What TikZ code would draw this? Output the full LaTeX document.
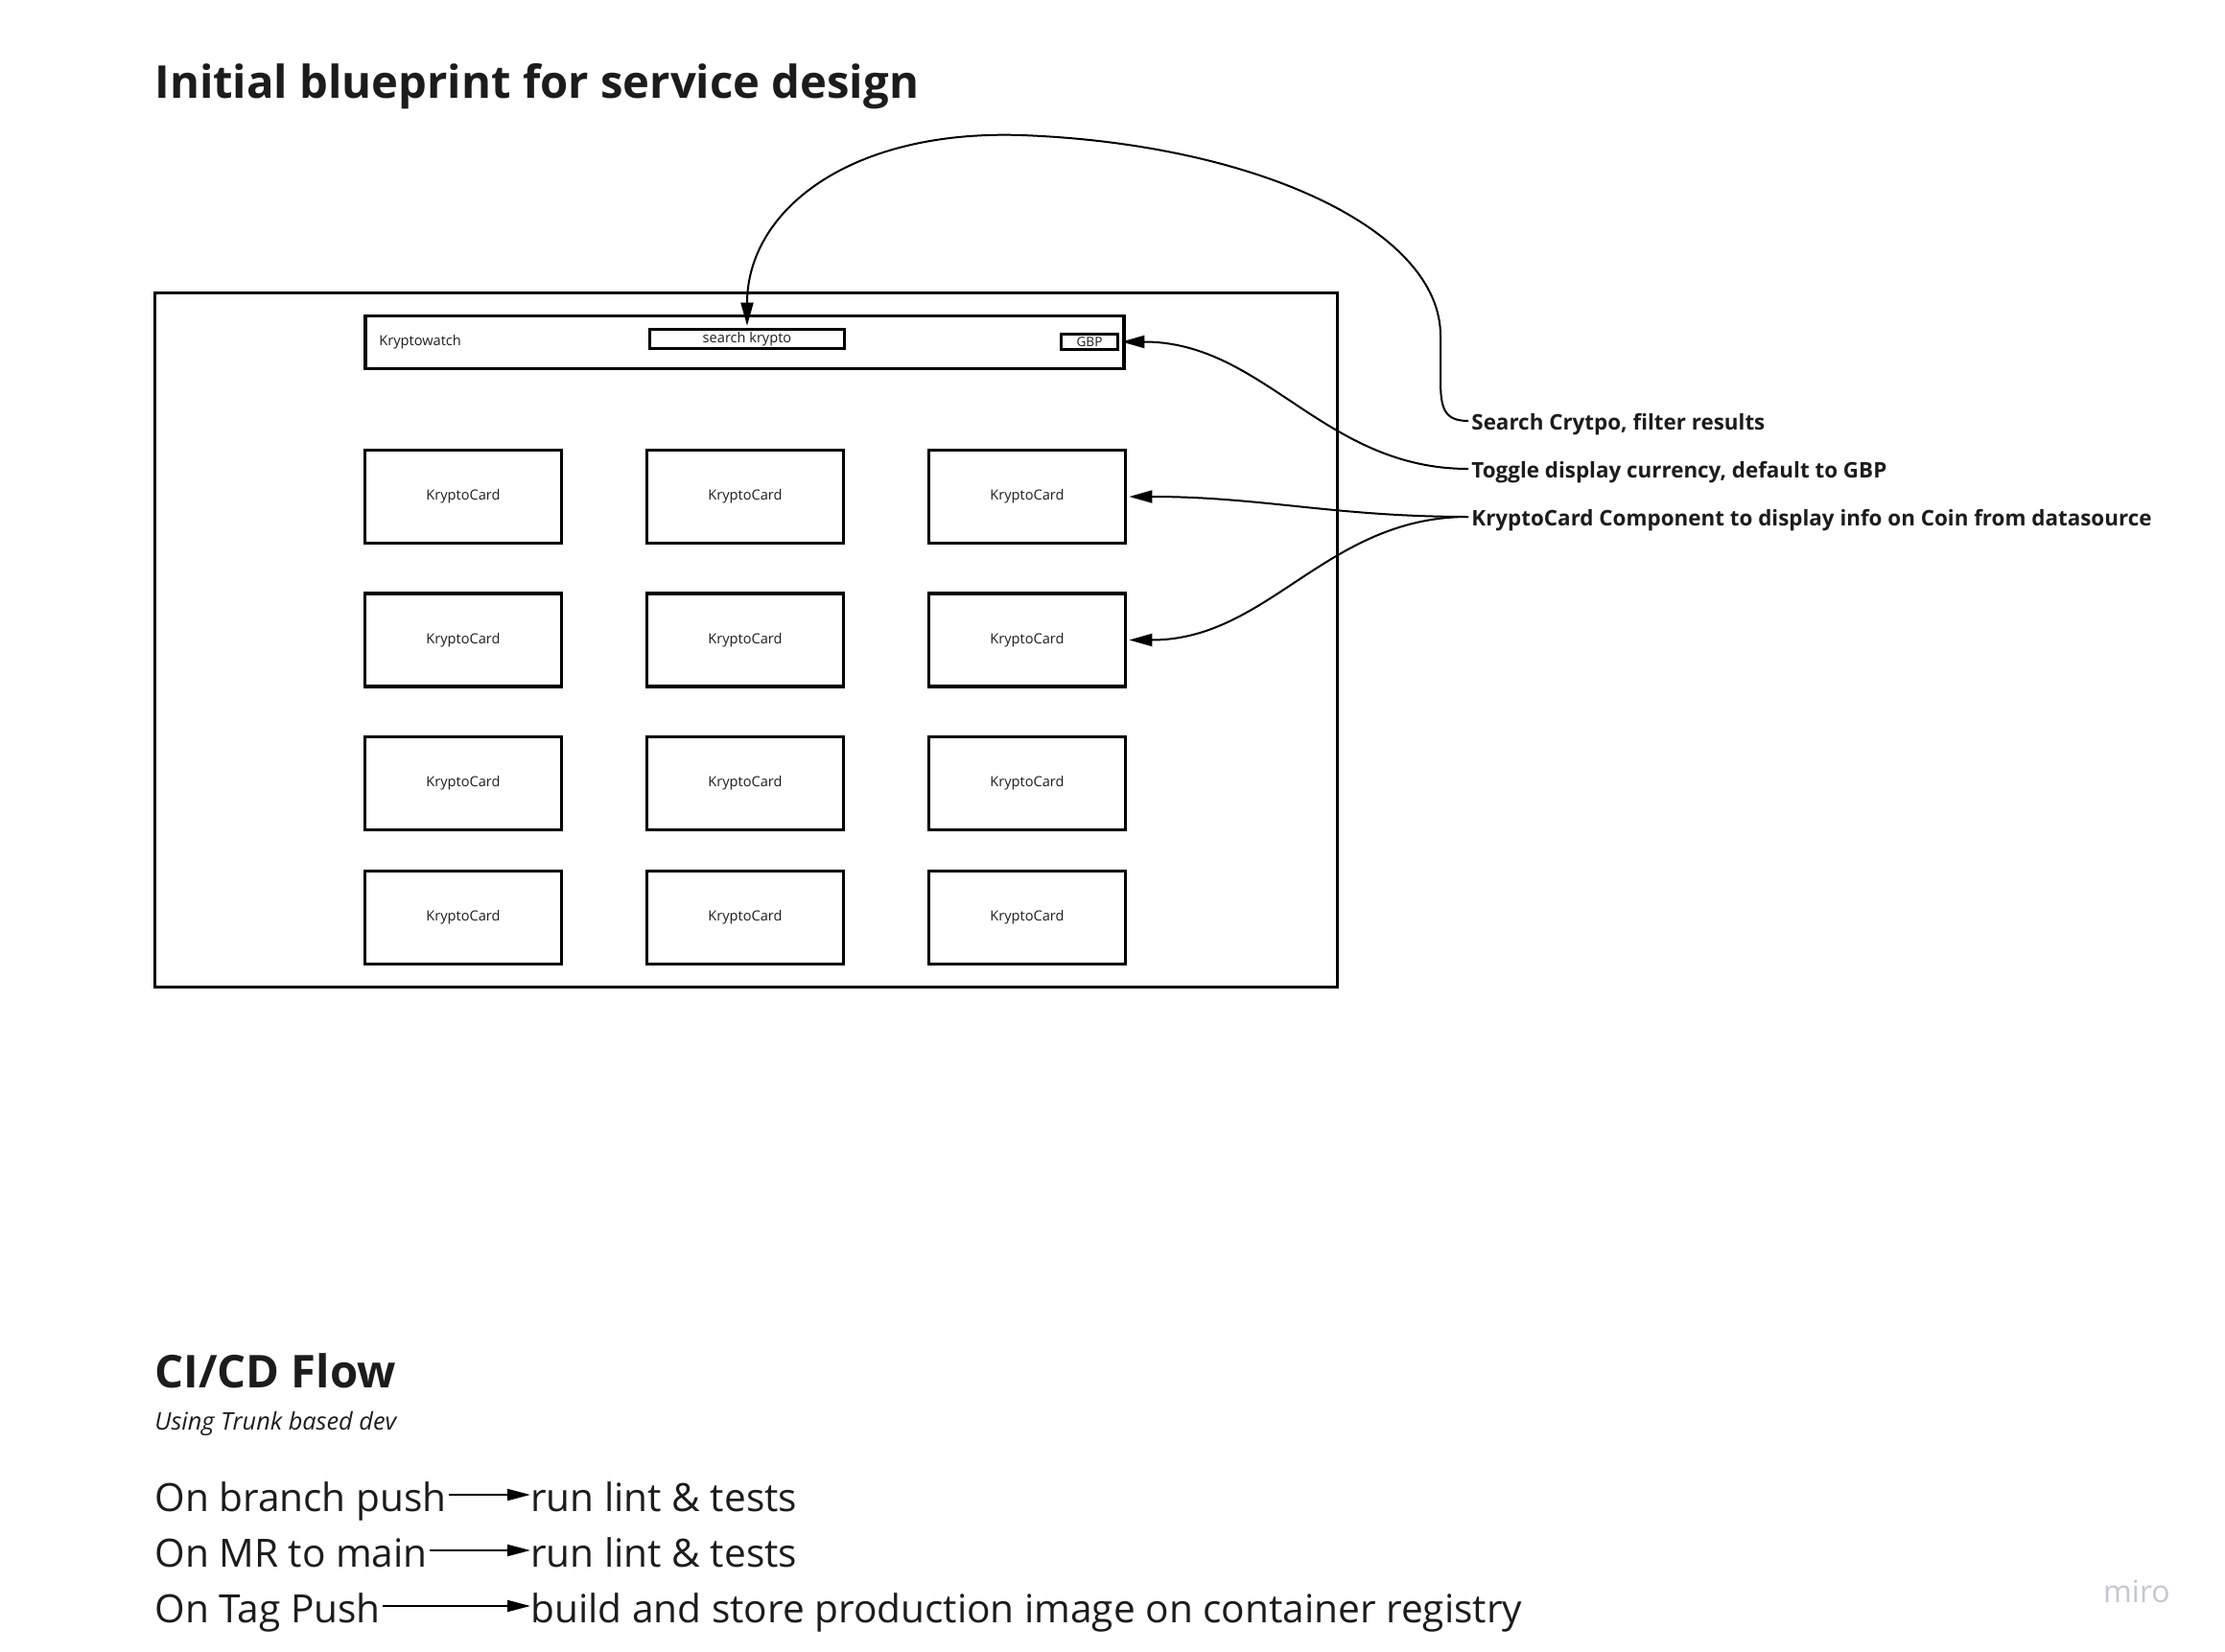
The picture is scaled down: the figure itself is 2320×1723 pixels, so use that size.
\documentclass[tikz,border=0pt]{standalone}
\usepackage{fontspec}
\setmainfont{Open Sans}
\usepackage{tikz}
\usetikzlibrary{positioning}
\usetikzlibrary{arrows.meta}
\usepackage{xcolor}

\definecolor{ink}{RGB}{28,28,28}
\definecolor{mirogray}{RGB}{196,198,214}

\begin{document}
\begin{tikzpicture}[x=0.5pt, y=-0.5pt, on grid, node distance=74.75pt and 147pt,
        every node/.style={text=ink},
        box/.style={draw, line width=1.8pt, inner sep=0pt},
        card/.style={box, minimum width=102.5pt, minimum height=48.5pt, font=\fontsize{7.3pt}{9pt}\selectfont},
        small/.style={inner sep=0pt, font=\fontsize{7.3pt}{9pt}\selectfont},
        note/.style={anchor=west, inner sep=1.5pt, text height=9pt, text depth=0pt, font=\fontsize{11.2pt}{14pt}\selectfont\bfseries},
        heading/.style={anchor=base west, inner sep=0pt, font=\fontsize{23.6pt}{28pt}\selectfont\bfseries},
        flowtxt/.style={anchor=base west, inner sep=0pt, text height=17pt, text depth=0pt, font=\fontsize{20.3pt}{24pt}\selectfont},
        link/.style={-{Triangle[length=12pt, width=6.5pt]}, line width=1pt, shorten >=1pt},
        flow/.style={-{Triangle[length=12pt, width=6pt]}, line width=1pt, shorten <=1pt}]

        \useasboundingbox (0,0) rectangle (2320,1723);

        \node[heading] (title) at (161,103) {Initial blueprint for service design};

        % app frame
        \node[box, minimum width=616.5pt, minimum height=362pt] (page) at (778,667.5) {};
        \node[box, minimum width=395.5pt, minimum height=27.5pt] (header) at (776.5,357) {};
        \node[small, anchor=west] (brand) at (395,357) {Kryptowatch};
        \node[box, minimum width=101.5pt, minimum height=10pt, font=\fontsize{7.3pt}{9pt}\selectfont] (search) at (779,353.5) {search krypto};
        \node[box, minimum width=29.5pt, minimum height=8pt, text height=4.8pt, text depth=0pt, font=\fontsize{6.8pt}{9pt}\selectfont] (gbp) at (1136,356.5) {GBP};

        % cards
        \node[card] (c11) at (483,518) {KryptoCard};
        \node[card] (c12) [right=of c11] {KryptoCard};
        \node[card] (c13) [right=of c12] {KryptoCard};
        \node[card] (c21) [below=of c11] {KryptoCard};
        \node[card] (c22) [right=of c21] {KryptoCard};
        \node[card] (c23) [right=of c22] {KryptoCard};
        \node[card] (c31) [below=of c21] {KryptoCard};
        \node[card] (c32) [right=of c31] {KryptoCard};
        \node[card] (c33) [right=of c32] {KryptoCard};
        \node[card] (c41) [below=70pt of c31] {KryptoCard};
        \node[card] (c42) [right=of c41] {KryptoCard};
        \node[card] (c43) [right=of c42] {KryptoCard};

        % notes
        \node[note] (lblsearch) at (1531,439) {Search Crytpo, filter results};
        \node[note] (lbltoggle) [below=25pt of lblsearch.west, anchor=west] {Toggle display currency, default to GBP};
        \node[note] (lblcard) [below=25pt of lbltoggle.west, anchor=west] {KryptoCard Component to display info on Coin from datasource};

        \draw[link] (lblsearch.west) .. controls (1505,439) and (1502,425) .. (1502,395)
          -- (1502,350) .. controls (1502,240) and (1310,150) .. (1065,141)
          .. controls (885,135) and (779,220) .. (search.north);

        \path[link]
        (lbltoggle.west) edge [out=180, in=0] (gbp.east)
        (lblcard.west) edge [out=180, in=0] (c13.east)
        (lblcard.west) edge [out=180, in=0] (c23.east);

        % ci/cd
        \node[heading] (cicd) at (161,1447) {CI/CD Flow};
        \node[anchor=base west, inner sep=0pt, font=\fontsize{12.65pt}{15pt}\selectfont\itshape] (trunk) at (161,1491) {Using Trunk based dev};

        \node[flowtxt] (onbranch) at (161,1576) {On branch push};
        \node[flowtxt] (onmr) [below=29pt of onbranch.base west, anchor=base west] {On MR to main};
        \node[flowtxt] (ontag) [below=29pt of onmr.base west, anchor=base west] {On Tag Push};

        \node[flowtxt] (lint1) at (553,1576) {run lint \& tests};
        \node[flowtxt] (lint2) [below=29pt of lint1.base west, anchor=base west] {run lint \& tests};
        \node[flowtxt] (build) [below=29pt of lint2.base west, anchor=base west] {build and store production image on container registry};

        \path[flow]
        (onbranch) edge (lint1)
        (onmr) edge (lint2)
        (ontag) edge (build);

        \node[font=\fontsize{16pt}{19pt}\selectfont, text=mirogray] (miro) at (2228,1660) {miro};

\end{tikzpicture}
\end{document}
